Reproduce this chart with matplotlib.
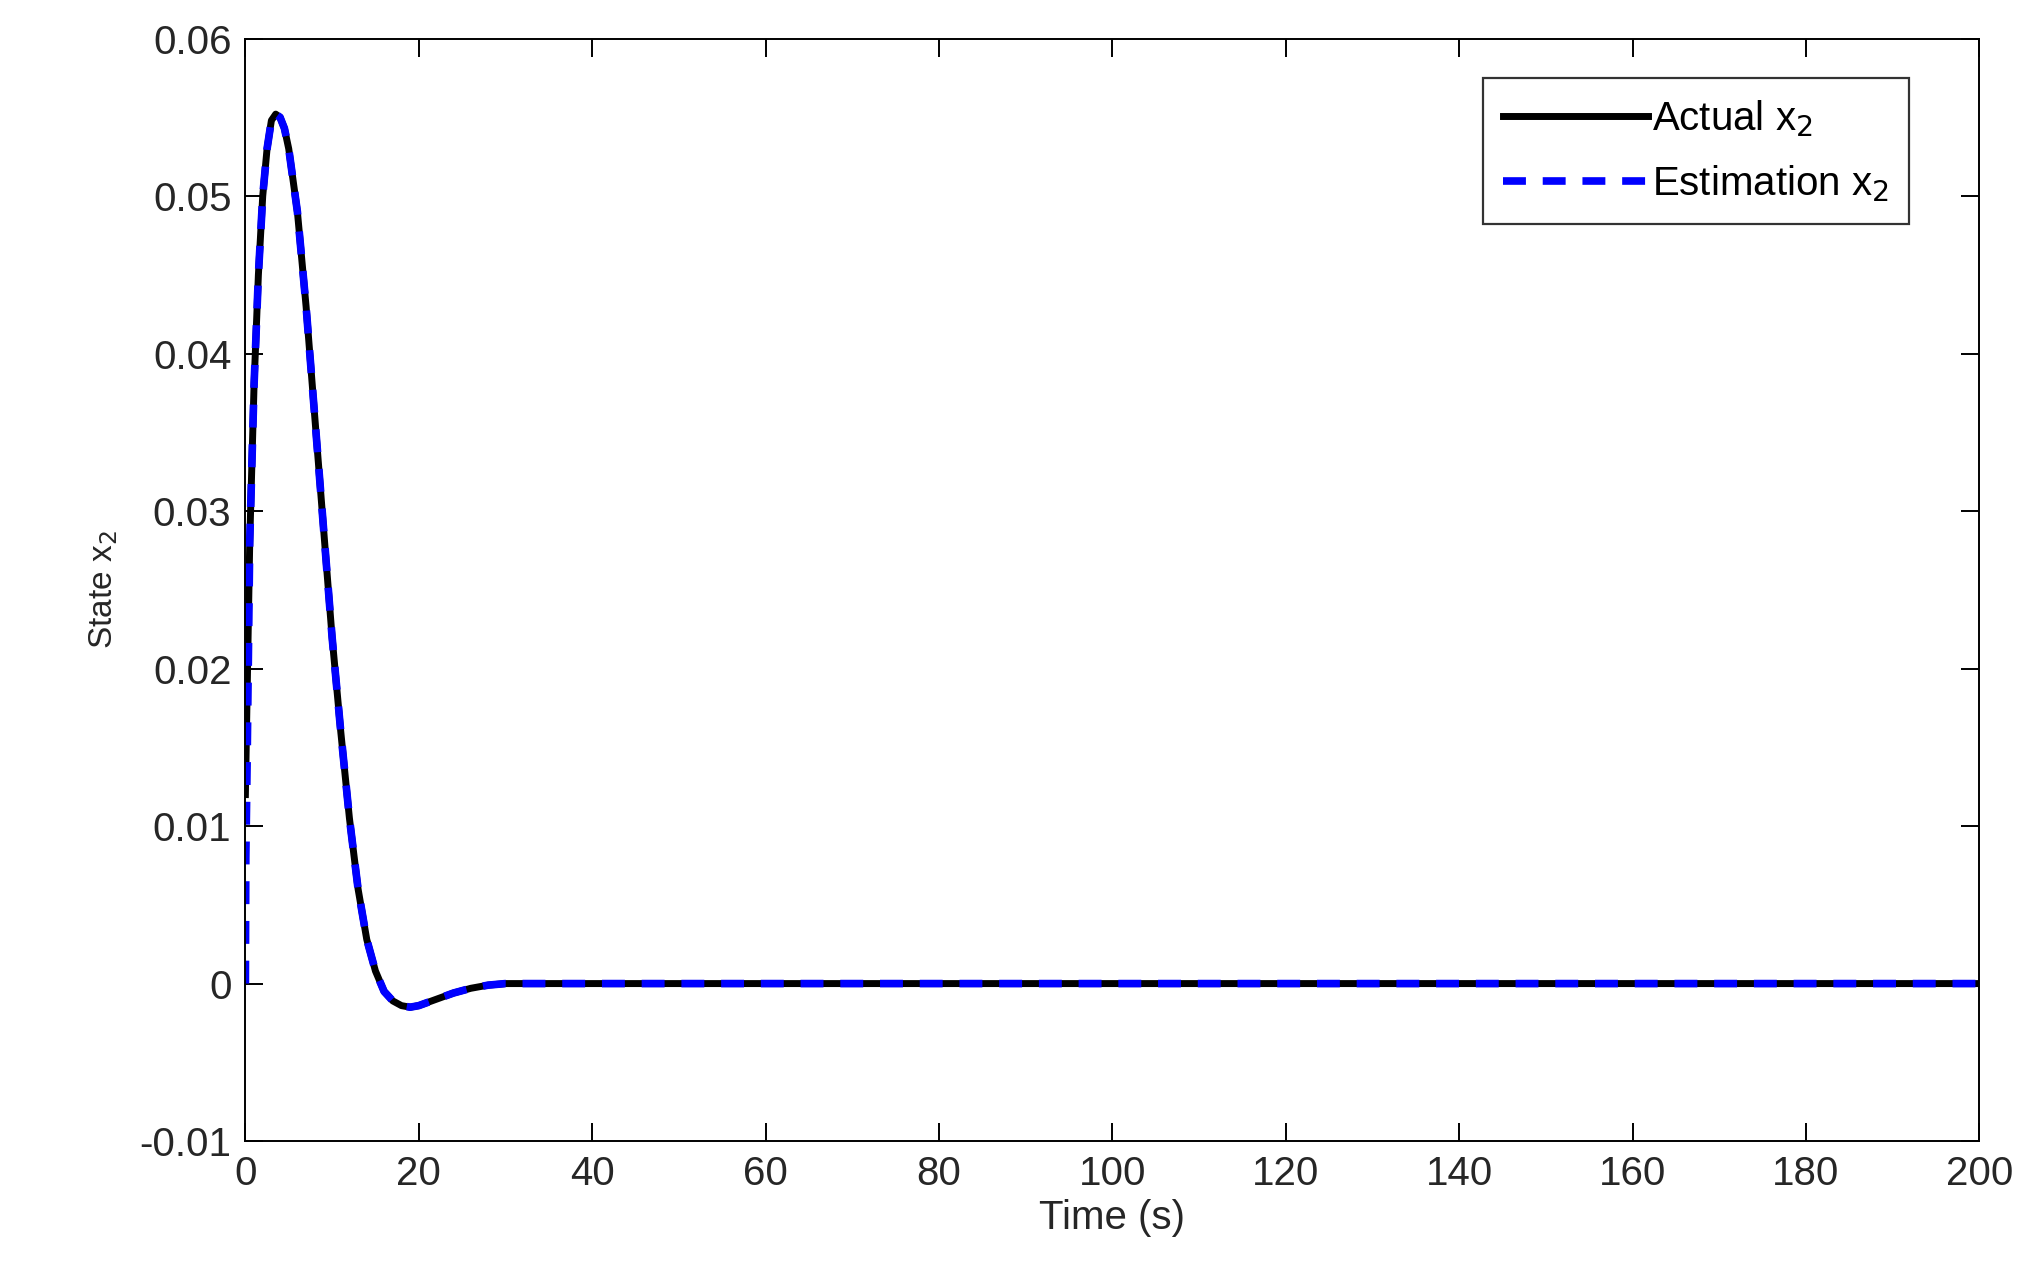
import matplotlib
matplotlib.use('Agg')
import matplotlib.pyplot as plt

plt.rcParams['font.family'] = ['Liberation Sans', 'DejaVu Sans']

# values
time = [0, 0.5, 1, 1.5, 2, 2.5, 3, 3.5, 4, 4.5, 5, 6, 7, 8, 9, 10, 11, 12, 13, 14,
        15, 16, 17, 18, 19, 20, 22, 24, 26, 28, 30, 35, 200]
actual_x2 = [0.012, 0.028, 0.038, 0.045, 0.050, 0.053, 0.0548, 0.0552, 0.0550, 0.0543,
             0.053, 0.049, 0.043, 0.036, 0.029, 0.022, 0.016, 0.0105, 0.006, 0.0028,
             0.0008, -0.0005, -0.0011, -0.0014, -0.0015, -0.0014, -0.0010, -0.0006,
             -0.0003, -0.0001, 0, 0, 0]
est_time = [0, 0.05, 0.2] + time[1:]
est_x2 = [0, 0.008, 0.014] + actual_x2[1:]

fig = plt.figure(figsize=(20.28, 12.85), dpi=100)
ax = fig.add_axes([0.121, 0.112, 0.855, 0.858])
ax.plot(time, actual_x2, color='black', lw=5, label='Actual x$_2$')
ax.plot(est_time, est_x2, color='blue', lw=5.5, ls=(0, (3, 2.2)), label='Estimation x$_2$')

ax.set_xlim(0, 200)
ax.set_ylim(-0.01, 0.06)
ax.set_xticks(range(0, 201, 20))
ax.set_yticks([-0.01, 0, 0.01, 0.02, 0.03, 0.04, 0.05, 0.06])
ax.set_yticklabels(['-0.01', '0', '0.01', '0.02', '0.03', '0.04', '0.05', '0.06'])
ax.tick_params(direction='in', top=True, right=True, labelsize=29, length=13,
               width=1.4, pad=10, labelcolor='#262626')
for s in ax.spines.values():
    s.set_linewidth(1.4)
ax.set_xlabel('Time (s)', fontsize=29, labelpad=4, color='#262626')
ax.set_ylabel('State x$_2$', fontsize=24, labelpad=14, color='#262626')

leg = ax.legend(loc='upper right', bbox_to_anchor=(0.9597, 0.964), fontsize=29,
                fancybox=False, edgecolor='black', handlelength=3.6,
                handletextpad=0.1, borderpad=0.5, labelspacing=0.6, borderaxespad=0)
leg.get_frame().set_linewidth(1.6)

fig.savefig('out.png')
